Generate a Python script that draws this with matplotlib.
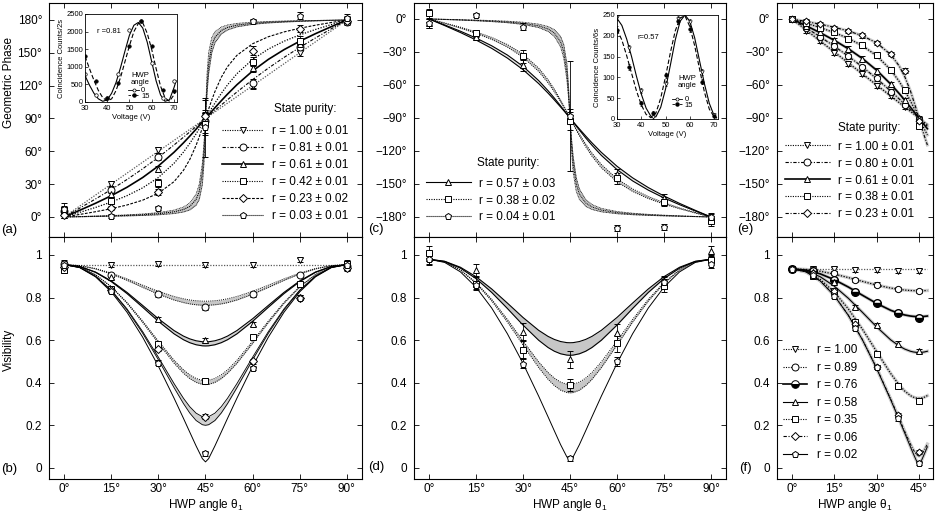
import matplotlib
matplotlib.use('Agg')
import matplotlib.pyplot as plt
from matplotlib.lines import Line2D

plt.rcParams['font.family'] = ['Liberation Sans', 'DejaVu Sans']
plt.rcParams['mathtext.fontset'] = 'custom'
plt.rcParams['mathtext.rm'] = 'Liberation Sans'
plt.rcParams['mathtext.it'] = 'Liberation Sans:italic'

# ---------------- theory grids (HWP angle, degrees) ----------------
th_phase = [0, 5, 10, 15, 20, 25, 30, 35, 38, 40, 42, 43, 44, 44.5, 44.8, 45,
            45.2, 45.5, 46, 47, 48, 50, 52, 55, 60, 65, 70, 75, 80, 85, 90]
th_vis = [0, 5, 10, 15, 20, 25, 30, 35, 38, 40, 42, 44, 45,
          46, 48, 50, 52, 55, 60, 65, 70, 75, 80, 85, 90]
th_e = [0, 5, 10, 15, 20, 25, 30, 35, 38, 40, 42, 44, 45, 46, 47, 48]
th_f = [0, 5, 10, 15, 20, 25, 30, 35, 38, 40, 42, 43, 44, 45, 46, 47, 48]
th_meas = [0, 15, 30, 45, 60, 75, 90]
th_meas_e = [0, 5, 10, 15, 20, 25, 30, 35, 40, 45]
th_meas_f = [0, 7.5, 15, 22.5, 30, 37.5, 45]

# ---------------- panel (a): geometric phase, fits ----------------
a_fit_100 = [0, 10, 20, 30, 40, 50, 60, 70, 76, 80, 84, 86, 88, 89, 89.6, 90,
             90.4, 91, 92, 94, 96, 100, 104, 110, 120, 130, 140, 150, 160, 170, 180]
a_fit_081 = [0, 8.13, 16.43, 25.06, 34.20, 43.99, 54.52, 65.81, 72.89, 77.72, 82.61, 85.07, 87.53, 88.77, 89.51, 90,
             90.49, 91.23, 92.47, 94.93, 97.39, 102.28, 107.11, 114.19, 125.48, 136.01, 145.80, 154.94, 163.57, 171.87, 180]
a_fit_061 = [0, 6.14, 12.52, 19.40, 27.11, 36.02, 46.57, 59.17, 67.77, 73.88, 80.22, 83.46, 86.72, 88.36, 89.34, 90,
             90.66, 91.64, 93.28, 96.54, 99.78, 106.12, 112.23, 120.83, 133.43, 143.98, 152.89, 160.60, 167.48, 173.86, 180]
a_fit_042 = [0, 4.24, 8.69, 13.63, 19.41, 26.59, 36.03, 49.09, 59.31, 67.23, 75.95, 80.55, 85.25, 87.62, 89.05, 90,
             90.95, 92.38, 94.75, 99.45, 104.05, 112.77, 120.69, 130.91, 143.97, 153.41, 160.59, 166.37, 171.31, 175.76, 180]
a_fit_023 = [0, 2.32, 4.79, 7.56, 10.92, 15.33, 21.72, 32.29, 42.69, 52.52, 65.44, 73.09, 81.37, 85.66, 88.26, 90,
             91.74, 94.34, 98.63, 106.91, 114.56, 127.48, 137.31, 147.71, 158.28, 164.67, 169.08, 172.44, 175.21, 177.68, 180]
a_fit_003 = [0, 0.30, 0.63, 0.99, 1.44, 2.05, 2.97, 4.71, 6.86, 9.66, 15.93, 23.22, 40.67, 59.81, 76.90, 90,
             103.10, 120.19, 139.33, 156.78, 164.07, 170.34, 173.14, 175.29, 177.03, 177.95, 178.56, 179.01, 179.37, 179.70, 180]
a_lo_003 = [0, 0.20, 0.42, 0.66, 0.96, 1.37, 1.98, 3.15, 4.59, 6.47, 10.77, 15.96, 29.80, 48.89, 70.76, 90,
            109.24, 131.11, 150.20, 164.04, 169.23, 173.53, 175.41, 176.85, 178.02, 178.63, 179.04, 179.34, 179.58, 179.80, 180]
a_hi_003 = [0, 0.40, 0.83, 1.32, 1.92, 2.73, 3.96, 6.27, 9.11, 12.78, 20.84, 29.77, 48.88, 66.42, 80.10, 90,
            99.90, 113.58, 131.12, 150.23, 159.16, 167.22, 170.89, 173.73, 176.04, 177.27, 178.08, 178.68, 179.17, 179.60, 180]

# panel (a): measured phase and errors
a_pts_100 = [3, 30, 61, 92, 120, 150, 180]
a_pts_081 = [5, 25, 55, 88, 122, 155, 178]
a_pts_061 = [4, 21, 44, 90, 136, 158, 181]
a_pts_042 = [6, 15, 31, 85, 142, 161, 180]
a_pts_023 = [2, 8, 23, 92, 152, 172, 179]
a_pts_003 = [7, 1, 8, 82, 179, 184, 182]
a_err_100 = [4, 3, 3, 4, 3, 3, 3]
a_err_081 = [4, 3, 3, 5, 4, 3, 3]
a_err_061 = [5, 3, 3, 8, 4, 4, 3]
a_err_042 = [4, 3, 4, 10, 4, 4, 3]
a_err_023 = [3, 2, 3, 15, 4, 3, 3]
a_err_003 = [6, 2, 2, 27, 2, 3, 3]

# ---------------- panel (b): visibility ----------------
b_th_100 = [0, 90]
b_fit_100 = [0.955, 0.955]
b_lo_081 = [0.955, 0.9498, 0.9347, 0.9110, 0.8811, 0.8481, 0.8159, 0.7887, 0.7765, 0.7704, 0.7663, 0.7643, 0.7640,
            0.7643, 0.7663, 0.7704, 0.7765, 0.7887, 0.8159, 0.8481, 0.8811, 0.9110, 0.9347, 0.9498, 0.955]
b_hi_081 = [0.955, 0.9503, 0.9365, 0.9151, 0.8880, 0.8583, 0.8294, 0.8051, 0.7942, 0.7888, 0.7852, 0.7833, 0.7831,
            0.7833, 0.7852, 0.7888, 0.7942, 0.8051, 0.8294, 0.8583, 0.8880, 0.9151, 0.9365, 0.9503, 0.955]
b_lo_061 = [0.955, 0.9457, 0.9186, 0.8753, 0.8191, 0.7547, 0.6887, 0.6298, 0.6021, 0.5882, 0.5786, 0.5736, 0.5730,
            0.5736, 0.5786, 0.5882, 0.6021, 0.6298, 0.6887, 0.7547, 0.8191, 0.8753, 0.9186, 0.9457, 0.955]
b_hi_061 = [0.955, 0.9461, 0.9200, 0.8784, 0.8247, 0.7633, 0.7007, 0.6452, 0.6192, 0.6062, 0.5973, 0.5927, 0.5921,
            0.5927, 0.5973, 0.6062, 0.6192, 0.6452, 0.7007, 0.7633, 0.8247, 0.8784, 0.9200, 0.9461, 0.955]
b_lo_042 = [0.955, 0.9430, 0.9073, 0.8499, 0.7737, 0.6832, 0.5857, 0.4920, 0.4447, 0.4197, 0.4020, 0.3927, 0.3916,
            0.3927, 0.4020, 0.4197, 0.4447, 0.4920, 0.5857, 0.6832, 0.7737, 0.8499, 0.9073, 0.9430, 0.955]
b_hi_042 = [0.955, 0.9432, 0.9083, 0.8522, 0.7777, 0.6898, 0.5954, 0.5056, 0.4606, 0.4371, 0.4204, 0.4117, 0.4107,
            0.4117, 0.4204, 0.4371, 0.4606, 0.5056, 0.5954, 0.6898, 0.7777, 0.8522, 0.9083, 0.9432, 0.955]
b_lo_023 = [0.955, 0.9411, 0.9000, 0.8331, 0.7428, 0.6328, 0.5081, 0.3771, 0.3021, 0.2579, 0.2230, 0.2032, 0.2006,
            0.2032, 0.2230, 0.2579, 0.3021, 0.3771, 0.5081, 0.6328, 0.7428, 0.8331, 0.9000, 0.9411, 0.955]
b_hi_023 = [0.955, 0.9414, 0.9011, 0.8356, 0.7475, 0.6405, 0.5204, 0.3963, 0.3272, 0.2877, 0.2576, 0.2409, 0.2388,
            0.2409, 0.2576, 0.2877, 0.3272, 0.3963, 0.5204, 0.6405, 0.7475, 0.8356, 0.9011, 0.9414, 0.955]
b_fit_003 = [0.955, 0.9405, 0.8975, 0.8272, 0.7318, 0.6143, 0.4781, 0.3277, 0.2327, 0.1682, 0.1038, 0.0440, 0.0287,
             0.0440, 0.1038, 0.1682, 0.2327, 0.3277, 0.4781, 0.6143, 0.7318, 0.8272, 0.8975, 0.9405, 0.955]

b_pts_100 = [0.95, 0.955, 0.96, 0.955, 0.955, 0.975, 0.955]
b_pts_081 = [0.96, 0.905, 0.815, 0.755, 0.815, 0.905, 0.95]
b_pts_061 = [0.95, 0.895, 0.70, 0.60, 0.675, 0.865, 0.945]
b_pts_042 = [0.93, 0.84, 0.58, 0.41, 0.615, 0.865, 0.96]
b_pts_023 = [0.945, 0.835, 0.56, 0.24, 0.50, 0.80, 0.94]
b_pts_003 = [0.955, 0.83, 0.495, 0.07, 0.47, 0.80, 0.955]
b_err = [0.015, 0.01, 0.01, 0.012, 0.01, 0.01, 0.015]

# ---------------- panel (c): geometric phase ----------------
c_lo_057 = [0, -5.44, -11.12, -17.32, -24.38, -32.76, -43.09, -56.02, -65.22, -71.92, -78.99, -82.62, -86.30, -88.15, -89.26, -90,
            -90.74, -91.85, -93.70, -97.38, -101.01, -108.08, -114.78, -123.98, -136.91, -147.24, -155.62, -162.68, -168.88, -174.56, -180]
c_hi_057 = [0, -6.04, -12.32, -19.11, -26.72, -35.56, -46.10, -58.76, -67.43, -73.62, -80.06, -83.35, -86.67, -88.33, -89.33, -90,
            -90.67, -91.67, -93.33, -96.65, -99.94, -106.38, -112.57, -121.24, -133.90, -144.44, -153.28, -160.89, -167.68, -173.96, -180]
c_lo_038 = [0, -3.63, -7.46, -11.74, -16.81, -23.22, -31.94, -44.69, -55.30, -63.90, -73.72, -79.01, -84.46, -87.22, -88.89, -90,
            -91.11, -92.78, -95.54, -100.99, -106.28, -116.10, -124.70, -135.31, -148.06, -156.78, -163.19, -168.26, -172.54, -176.37, -180]
c_hi_038 = [0, -4.03, -8.28, -13.00, -18.55, -25.49, -34.72, -47.70, -58.06, -66.21, -75.28, -80.08, -85.01, -87.50, -89.00, -90,
            -91.00, -92.50, -94.99, -99.92, -104.72, -113.79, -121.94, -132.30, -145.28, -154.51, -161.45, -167.00, -171.72, -175.97, -180]
c_fit_004 = [0, -0.40, -0.83, -1.32, -1.92, -2.73, -3.96, -6.27, -9.11, -12.78, -20.84, -29.77, -48.88, -66.42, -80.10, -90,
             -99.90, -113.58, -131.12, -150.23, -159.16, -167.22, -170.89, -173.73, -176.04, -177.27, -178.08, -178.68, -179.17, -179.60, -180]
c_lo_004 = [0, -0.30, -0.63, -0.99, -1.44, -2.05, -2.97, -4.71, -6.86, -9.66, -15.93, -23.22, -40.67, -59.81, -76.90, -90,
            -103.10, -120.19, -139.33, -156.78, -164.07, -170.34, -173.14, -175.29, -177.03, -177.95, -178.56, -179.01, -179.37, -179.70, -180]
c_hi_004 = [0, -0.51, -1.04, -1.65, -2.40, -3.41, -4.95, -7.82, -11.34, -15.83, -25.44, -35.56, -55.07, -70.76, -82.05, -90,
            -97.95, -109.24, -124.93, -144.44, -154.56, -164.17, -168.66, -172.18, -175.05, -176.59, -177.60, -178.35, -178.96, -179.49, -180]

c_pts_057 = [-4, -16, -42, -88, -141, -163, -181]
c_pts_038 = [5, -13, -34, -93, -145, -166, -184]
c_pts_004 = [-4, 3.5, -7, -88, -190, -189, -180]
c_err_057 = [4, 3, 5, 6, 5, 4, 4]
c_err_038 = [4, 3, 6, 8, 5, 4, 4]
c_err_004 = [4, 2, 3, 50, 3, 3, 4]

# ---------------- panel (d): visibility ----------------
d_lo_057 = [0.98, 0.9695, 0.9385, 0.8890, 0.8242, 0.7491, 0.6709, 0.5997, 0.5656, 0.5482, 0.5362, 0.5300, 0.5292,
            0.5300, 0.5362, 0.5482, 0.5656, 0.5997, 0.6709, 0.7491, 0.8242, 0.8890, 0.9385, 0.9695, 0.98]
d_hi_057 = [0.98, 0.9705, 0.9426, 0.8982, 0.8405, 0.7744, 0.7067, 0.6463, 0.6178, 0.6036, 0.5937, 0.5886, 0.5880,
            0.5886, 0.5937, 0.6036, 0.6178, 0.6463, 0.7067, 0.7744, 0.8405, 0.8982, 0.9426, 0.9705, 0.98]
d_lo_038 = [0.98, 0.9671, 0.9288, 0.8668, 0.7842, 0.6855, 0.5775, 0.4714, 0.4164, 0.3869, 0.3655, 0.3542, 0.3528,
            0.3542, 0.3655, 0.3869, 0.4164, 0.4714, 0.5775, 0.6855, 0.7842, 0.8668, 0.9288, 0.9671, 0.98]
d_hi_038 = [0.98, 0.9675, 0.9306, 0.8710, 0.7919, 0.6978, 0.5961, 0.4980, 0.4482, 0.4219, 0.4031, 0.3932, 0.3920,
            0.3932, 0.4031, 0.4219, 0.4482, 0.4980, 0.5961, 0.6978, 0.7919, 0.8710, 0.9306, 0.9675, 0.98]
d_fit_004 = [0.98, 0.9651, 0.9210, 0.8489, 0.7511, 0.6306, 0.4912, 0.3372, 0.2401, 0.1745, 0.1096, 0.0520, 0.0392,
             0.0520, 0.1096, 0.1745, 0.2401, 0.3372, 0.4912, 0.6306, 0.7511, 0.8489, 0.9210, 0.9651, 0.98]

d_pts_057 = [0.985, 0.93, 0.64, 0.51, 0.635, 0.87, 1.02]
d_pts_038 = [1.01, 0.865, 0.555, 0.39, 0.585, 0.855, 0.975]
d_pts_004 = [0.98, 0.86, 0.49, 0.045, 0.50, 0.875, 0.96]
d_err_057 = [0.03, 0.03, 0.04, 0.04, 0.04, 0.03, 0.02]
d_err_038 = [0.03, 0.03, 0.04, 0.03, 0.04, 0.03, 0.02]
d_err_004 = [0.02, 0.02, 0.02, 0.01, 0.02, 0.02, 0.02]

# ---------------- panel (e): geometric phase ----------------
e_fit_100 = [0, -10, -20, -30, -40, -50, -60, -70, -76, -80, -84, -88, -90, -92, -94, -96]
e_fit_080 = [0, -8.03, -16.23, -24.79, -33.87, -43.64, -54.18, -65.53, -72.69, -77.57, -82.52, -87.50, -90, -92.50, -95.00, -97.48]
e_fit_061 = [0, -6.14, -12.52, -19.40, -27.11, -36.02, -46.57, -59.17, -67.77, -73.88, -80.22, -86.72, -90, -93.28, -96.54, -99.78]
e_fit_038 = [0, -3.83, -7.87, -12.37, -17.69, -24.37, -33.35, -46.23, -56.73, -65.11, -74.54, -84.75, -90, -95.25, -100.43, -105.46]
e_fit_023 = [0, -2.32, -4.79, -7.56, -10.92, -15.33, -21.72, -32.29, -42.69, -52.52, -65.44, -81.37, -90, -98.63, -106.91, -114.56]

e_pts_100 = [0, -11, -20, -31, -41, -50, -61, -70, -80, -92]
e_pts_080 = [0, -8, -16, -25, -34, -44, -54, -66, -78, -91]
e_pts_061 = [0, -6, -12, -19, -27, -36, -47, -59, -74, -90]
e_pts_038 = [0, -4, -8, -12, -18, -24, -33, -46, -65, -97]
e_pts_023 = [0, -2, -5, -8, -11, -15, -22, -32, -47, -93]

# ---------------- panel (f): visibility ----------------
f_th_100 = [0, 48]
f_fit_100 = [0.935, 0.935]
f_fit_089 = [0.935, 0.9321, 0.9236, 0.9104, 0.8939, 0.8761, 0.8590, 0.8448, 0.8385, 0.8354, 0.8333, 0.8327, 0.8323, 0.8322, 0.8323, 0.8327, 0.8333]
f_fit_076 = [0.935, 0.9290, 0.9116, 0.8843, 0.8495, 0.8109, 0.7728, 0.7404, 0.7256, 0.7184, 0.7134, 0.7119, 0.7109, 0.7106, 0.7109, 0.7119, 0.7134]
f_fit_058 = [0.935, 0.9256, 0.8980, 0.8539, 0.7966, 0.7306, 0.6627, 0.6016, 0.5728, 0.5582, 0.5481, 0.5449, 0.5430, 0.5423, 0.5430, 0.5449, 0.5481]
f_fit_035 = [0.935, 0.9226, 0.8857, 0.8261, 0.7465, 0.6512, 0.5467, 0.4437, 0.3899, 0.3609, 0.3398, 0.3329, 0.3287, 0.3273, 0.3287, 0.3329, 0.3398]
f_fit_006 = [0.935, 0.9209, 0.8788, 0.8102, 0.7172, 0.6026, 0.4700, 0.3241, 0.2327, 0.1715, 0.1125, 0.0859, 0.0648, 0.0561, 0.0648, 0.0859, 0.1125]
f_fit_002 = [0.935, 0.9208, 0.8786, 0.8098, 0.7164, 0.6012, 0.4678, 0.3203, 0.2269, 0.1634, 0.0995, 0.0678, 0.0376, 0.0187, 0.0376, 0.0678, 0.0995]

f_pts_100 = [0.935, 0.935, 0.935, 0.93, 0.93, 0.927, 0.925]
f_pts_089 = [0.935, 0.925, 0.914, 0.884, 0.861, 0.842, 0.83]
f_pts_076 = [0.935, 0.925, 0.884, 0.825, 0.774, 0.727, 0.703]
f_pts_058 = [0.935, 0.92, 0.872, 0.757, 0.670, 0.584, 0.548]
f_pts_035 = [0.935, 0.90, 0.83, 0.685, 0.536, 0.387, 0.316]
f_pts_006 = [0.935, 0.915, 0.83, 0.678, 0.475, 0.249, 0.075]
f_pts_002 = [0.935, 0.905, 0.808, 0.656, 0.475, 0.233, 0.025]

# ---------------- insets: coincidence counts vs LC voltage ----------------
volt = [30, 32, 34, 36, 38, 40, 42, 44, 46, 48, 50, 52, 54, 56, 58, 60, 62, 64, 66, 68, 70, 71]
volt_pts = [30, 35, 40, 45, 50, 55, 60, 65, 70]
ia_fit_0 = [750, 480, 250, 90, 20, 60, 250, 560, 980, 1450, 1900, 2180, 2260, 2100, 1700, 1150, 600, 200, 20, 60, 400, 600]
ia_fit_15 = [1300, 950, 620, 330, 120, 30, 90, 330, 700, 1150, 1600, 2000, 2230, 2250, 1950, 1500, 950, 450, 120, 20, 200, 350]
ia_pts_0 = [800, 200, 100, 800, 2050, 2300, 1100, 100, 600]
ia_pts_15 = [1300, 600, 100, 550, 1600, 2300, 1600, 350, 300]
ic_fit_0 = [242, 225, 192, 150, 103, 60, 26, 6, 5, 28, 72, 130, 190, 235, 250, 235, 195, 140, 85, 38, 8, 3]
ic_fit_15 = [215, 190, 152, 110, 68, 34, 11, 3, 14, 50, 102, 160, 212, 243, 248, 222, 176, 120, 65, 24, 5, 2]
ic_pts_0 = [245, 170, 68, 5, 85, 240, 232, 112, 10]
ic_pts_15 = [215, 125, 38, 15, 105, 236, 216, 90, 8]
ic_err = [8, 8, 6, 4, 6, 8, 8, 7, 4]

# ---------------- figure ----------------
W, H = 937, 513
fig = plt.figure(figsize=(W / 100, H / 100), dpi=100)


def box(x0, x1, y0, y1):
    return [x0 / W, 1 - y1 / H, (x1 - x0) / W, (y1 - y0) / H]


FS = 8.5
IFS = 5.5
DOT = (0, (1, 1.2))
DOT2 = (0, (1, 0.8))
DDOT = (0, (3, 1.5, 1, 1.5))
DASH = (0, (2.5, 1.3))
BAND = '0.78'


def style(ax, xt, xl, yt, yl):
    ax.tick_params(direction='in', top=True, right=True, length=3.5, width=0.6,
                   labelsize=FS, pad=5)
    ax.tick_params(axis='x', pad=3)
    for s in ax.spines.values():
        s.set_linewidth(0.8)
    ax.set_xticks(xt)
    ax.set_xticklabels(xl)
    ax.set_yticks(yt)
    ax.set_yticklabels(yl)


def inset_style(ins):
    ins.tick_params(direction='in', length=2, width=0.5, labelsize=IFS, pad=1.5)
    ins.tick_params(axis='x', pad=2.5)
    for s in ins.spines.values():
        s.set_linewidth(0.6)
    ins.spines['top'].set_linestyle((0, (1, 1)))
    ins.spines['right'].set_linestyle((0, (1, 1)))
    ins.set_xticks([30, 40, 50, 60, 70])


def pts(ax, x, y, err, m, ms=5, mfc='white'):
    ax.errorbar(x, y, yerr=err, fmt=m, ms=ms, mfc=mfc, mec='k', mew=0.7,
                ecolor='k', elinewidth=0.6, capsize=2, capthick=0.6, zorder=5)


def band(ax, x, lo, hi, ls, lw=0.7, col=BAND):
    ax.fill_between(x, lo, hi, color=col, lw=0, zorder=1)
    ax.plot(x, lo, color='k', ls=ls, lw=lw, zorder=2)
    ax.plot(x, hi, color='k', ls=ls, lw=lw, zorder=2)


def handle(ls, m, lw=0.8, ms=5, **kw):
    return Line2D([], [], color='k', ls=ls, lw=lw, marker=m, ms=ms,
                  mfc=kw.get('mfc', 'white'), mec='k', mew=0.7,
                  fillstyle=kw.get('fillstyle', 'full'),
                  markerfacecoloralt=kw.get('mfcalt', 'white'))


def purity_legend(ax, hs, labels, x, y, hl, tpos=None, sp=0.42):
    ax.legend(hs, labels, loc='upper left', bbox_to_anchor=(x, y), frameon=False,
              handlelength=hl, handletextpad=0.7, labelspacing=sp, borderpad=0,
              borderaxespad=0, fontsize=FS, numpoints=1)
    if tpos is not None:
        ax.text(tpos[0], tpos[1], 'State purity:', transform=ax.transAxes,
                fontsize=FS, va='center', ha='left')


def hwp_legend(ins, x, y):
    hs = [Line2D([], [], color='k', lw=0.6, marker='o', ms=2.2, mfc='white', mec='k', mew=0.5),
          Line2D([], [], color='k', lw=0.6, ls=(0, (3, 1.5)), marker='o', ms=2.2, mfc='k', mec='k')]
    ins.legend(hs, ['0', '15'], loc='upper left', bbox_to_anchor=(x, y), frameon=False,
               handlelength=1.4, handletextpad=0.3, labelspacing=-0.25, borderpad=0,
               borderaxespad=0, fontsize=IFS, numpoints=1)


x90 = [0, 15, 30, 45, 60, 75, 90]
x90l = ['0°', '15°', '30°', '45°', '60°', '75°', '90°']
vis_t = [0, 0.2, 0.4, 0.6, 0.8, 1.0]
vis_l = ['0', '0.2', '0.4', '0.6', '0.8', '1']
neg_t = [0, -30, -60, -90, -120, -150, -180]
neg_l = ['0°', '\u221230°', '\u221260°', '\u221290°', '\u2212120°', '\u2212150°', '\u2212180°']

YB = 479  # bottom spine (pixels)
YLAB = -0.108

# ---- (a)
ax = fig.add_axes(box(49, 362, 3, 237))
style(ax, x90, [], [0, 30, 60, 90, 120, 150, 180],
      ['0°', '30°', '60°', '90°', '120°', '150°', '180°'])
ax.set_xlim(-4.8, 94.8)
ax.set_ylim(-18.3, 195.5)
band(ax, th_phase, a_lo_003, a_hi_003, DOT2, lw=0.6)
ax.plot(th_phase, a_fit_003, color='k', ls=DOT2, lw=0.8)
ax.plot(th_phase, a_fit_100, color='0.35', ls=DOT, lw=0.9)
ax.plot(th_phase, a_fit_081, color='k', ls=DDOT, lw=0.8)
ax.plot(th_phase, a_fit_061, color='k', ls='-', lw=1.2)
ax.plot(th_phase, a_fit_042, color='k', ls=DOT, lw=0.9)
ax.plot(th_phase, a_fit_023, color='k', ls=DASH, lw=0.8)
pts(ax, th_meas, a_pts_100, a_err_100, 'v')
pts(ax, th_meas, a_pts_081, a_err_081, 'o')
pts(ax, th_meas, a_pts_061, a_err_061, '^')
pts(ax, th_meas, a_pts_042, a_err_042, 's', ms=4.5)
pts(ax, th_meas, a_pts_023, a_err_023, 'D', ms=4)
pts(ax, th_meas, a_pts_003, a_err_003, 'p')
ax.set_ylabel('Geometric Phase', fontsize=FS)
ax.yaxis.set_label_coords(YLAB, 0.662)
hs = [handle(DOT, 'v'), handle(DDOT, 'o'), handle('-', '^', lw=1.2),
      handle(DOT, 's', ms=4.5), handle(DASH, 'D', ms=4), handle(DOT2, 'p')]
labs = ['r = 1.00 ± 0.01', 'r = 0.81 ± 0.01', 'r = 0.61 ± 0.01',
        'r = 0.42 ± 0.01', 'r = 0.23 ± 0.02', 'r = 0.03 ± 0.01']
purity_legend(ax, hs, labs, 0.553, 0.478, 3.5, (0.719, 0.547))

# inset (a)
ins = fig.add_axes(box(85, 177, 14, 102))
inset_style(ins)
ins.plot(volt, ia_fit_0, color='k', lw=0.8)
ins.plot(volt, ia_fit_15, color='k', lw=0.8, ls=(0, (4, 2)))
ins.plot(volt_pts, ia_pts_0, 'o', ms=2.5, mfc='white', mec='k', mew=0.5)
ins.plot(volt_pts, ia_pts_15, 'o', ms=2.5, mfc='k', mec='k', mew=0.5)
ins.set_xlim(30, 71.4)
ins.set_ylim(0, 2500)
ins.set_yticks([0, 500, 1000, 1500, 2000, 2500])
ins.set_xlabel('Voltage (V)', fontsize=IFS, labelpad=1)
ins.set_ylabel('Coincidence Counts/2s', fontsize=IFS, labelpad=1)
ins.text(0.255, 0.80, 'r =0.81', transform=ins.transAxes, fontsize=IFS, ha='center', va='center')
ins.text(0.6, 0.267, 'HWP\nangle', transform=ins.transAxes, fontsize=IFS, ha='center', va='center', linespacing=1.0)
hwp_legend(ins, 0.47, 0.17)

# ---- (b)
ax = fig.add_axes(box(49, 362, 237, YB))
style(ax, x90, x90l, vis_t, vis_l)
ax.set_xlim(-4.8, 94.8)
ax.set_ylim(-(YB - 468) / 213, 1.0845)
ax.plot(b_th_100, b_fit_100, color='0.35', ls=DOT, lw=0.9)
band(ax, th_vis, b_lo_081, b_hi_081, DOT)
band(ax, th_vis, b_lo_061, b_hi_061, '-', lw=0.8, col='0.82')
band(ax, th_vis, b_lo_042, b_hi_042, DOT)
band(ax, th_vis, b_lo_023, b_hi_023, '-', lw=0.6, col='0.82')
ax.plot(th_vis, b_fit_003, color='k', lw=0.7)
pts(ax, th_meas, b_pts_100, b_err, 'v')
pts(ax, th_meas, b_pts_081, b_err, 'o')
pts(ax, th_meas, b_pts_061, b_err, '^')
pts(ax, th_meas, b_pts_042, b_err, 's', ms=4.5)
pts(ax, th_meas, b_pts_023, b_err, 'D', ms=4)
pts(ax, th_meas, b_pts_003, b_err, 'p')
ax.set_ylabel('Visibility', fontsize=FS)
ax.yaxis.set_label_coords(YLAB, 0.533)
ax.set_xlabel('HWP angle θ$_1$', fontsize=FS, labelpad=1)

# ---- (c)
ax = fig.add_axes(box(414, 726, 3, 237))
style(ax, x90, [], neg_t, neg_l)
ax.set_xlim(-4.8, 94.8)
ax.set_ylim(-198.2, 14.5)
band(ax, th_phase, c_lo_004, c_hi_004, DOT2, lw=0.6)
ax.plot(th_phase, c_fit_004, color='k', ls=DOT2, lw=0.7)
band(ax, th_phase, c_lo_038, c_hi_038, DOT, lw=0.7)
band(ax, th_phase, c_lo_057, c_hi_057, '-', lw=0.8, col='0.9')
pts(ax, th_meas, c_pts_057, c_err_057, '^')
pts(ax, th_meas, c_pts_038, c_err_038, 's', ms=4.5)
pts(ax, th_meas, c_pts_004, c_err_004, 'p')
hs = [handle('-', '^'), handle(DOT, 's', ms=4.5), handle(DOT2, 'p')]
labs = ['r = 0.57 ± 0.03', 'r = 0.38 ± 0.02', 'r = 0.04 ± 0.01']
purity_legend(ax, hs, labs, 0.038, 0.254, 3.8, (0.202, 0.316))

# inset (c)
ins = fig.add_axes(box(617, 718, 15, 119))
inset_style(ins)
ins.plot(volt, ic_fit_0, color='k', lw=0.8)
ins.plot(volt, ic_fit_15, color='k', lw=0.8, ls=(0, (4, 2)))
ins.errorbar(volt_pts, ic_pts_0, yerr=ic_err, fmt='v', ms=2.5, mfc='white', mec='k', mew=0.5,
             ecolor='k', elinewidth=0.4, capsize=1)
ins.errorbar(volt_pts, ic_pts_15, yerr=ic_err, fmt='o', ms=2.5, mfc='k', mec='k', mew=0.5,
             ecolor='k', elinewidth=0.4, capsize=1)
ins.set_xlim(30, 71.6)
ins.set_ylim(0, 250)
ins.set_yticks([0, 50, 100, 150, 200, 250])
ins.set_xlabel('Voltage (V)', fontsize=IFS, labelpad=1)
ins.set_ylabel('Coincidence Counts/6s', fontsize=IFS, labelpad=1)
ins.text(0.307, 0.788, 'r=0.57', transform=ins.transAxes, fontsize=IFS, ha='center', va='center')
ins.text(0.693, 0.36, 'HWP\nangle', transform=ins.transAxes, fontsize=IFS, ha='center', va='center', linespacing=1.0)
hwp_legend(ins, 0.54, 0.22)

# ---- (d)
ax = fig.add_axes(box(414, 726, 237, YB))
style(ax, x90, x90l, vis_t, vis_l)
ax.set_xlim(-4.8, 94.8)
ax.set_ylim(-(YB - 468) / 213, 1.0845)
band(ax, th_vis, d_lo_057, d_hi_057, '-', lw=0.8)
band(ax, th_vis, d_lo_038, d_hi_038, DOT, lw=0.7)
ax.plot(th_vis, d_fit_004, color='k', lw=0.7)
pts(ax, th_meas, d_pts_057, d_err_057, '^')
pts(ax, th_meas, d_pts_038, d_err_038, 's', ms=4.5)
pts(ax, th_meas, d_pts_004, d_err_004, 'p')
ax.set_xlabel('HWP angle θ$_1$', fontsize=FS, labelpad=1)

# ---- (e)
ax = fig.add_axes(box(777, 933, 3, 237))
style(ax, [0, 15, 30, 45], [], neg_t, neg_l)
ax.set_xlim(-5.3, 50)
ax.set_ylim(-198.2, 14.5)
for y, ls, lw in [(e_fit_100, DOT, 0.9), (e_fit_080, DDOT, 0.8), (e_fit_061, '-', 1.2),
                  (e_fit_038, DOT, 0.9), (e_fit_023, DDOT, 0.8)]:
    ax.plot(th_e, y, color='0.8', lw=2.2, zorder=1)
    ax.plot(th_e, y, color='k', ls=ls, lw=lw, zorder=2)
e_err = [2] * len(th_meas_e)
pts(ax, th_meas_e, e_pts_100, e_err, 'v', ms=4.5)
pts(ax, th_meas_e, e_pts_080, e_err, 'o', ms=4.5)
pts(ax, th_meas_e, e_pts_061, e_err, '^', ms=4.5)
pts(ax, th_meas_e, e_pts_038, e_err, 's', ms=4)
pts(ax, th_meas_e, e_pts_023, e_err, 'D', ms=3.5)
hs = [handle(DOT, 'v'), handle(DDOT, 'o'), handle('-', '^', lw=1.2),
      handle(DOT, 's', ms=4.5), handle(DDOT, 'D', ms=4)]
labs = ['r = 1.00 ± 0.01', 'r = 0.80 ± 0.01', 'r = 0.61 ± 0.01',
        'r = 0.38 ± 0.01', 'r = 0.23 ± 0.01']
purity_legend(ax, hs, labs, 0.05, 0.412, 3.8, (0.391, 0.466))

# ---- (f)
ax = fig.add_axes(box(777, 933, 237, YB))
style(ax, [0, 15, 30, 45], ['0°', '15°', '30°', '45°'], vis_t, vis_l)
ax.set_xlim(-5.3, 50)
ax.set_ylim(-(YB - 468) / 213, 1.0845)
ax.plot(f_th_100, f_fit_100, color='0.35', ls=DOT, lw=0.9)
for y, ls, lw in [(f_fit_089, DOT, 0.9), (f_fit_076, '-', 1.2), (f_fit_058, '-', 0.8),
                  (f_fit_035, DOT, 0.9), (f_fit_006, DDOT, 0.7), (f_fit_002, '-', 0.7)]:
    ax.plot(th_f, y, color='0.8', lw=2.4, zorder=1)
    ax.plot(th_f, y, color='k', ls=ls, lw=lw, zorder=2)
f_err = [0.01] * len(th_meas_f)
pts(ax, th_meas_f, f_pts_100, f_err, 'v', ms=4.5)
pts(ax, th_meas_f, f_pts_089, f_err, 'o', ms=4.5)
ax.errorbar(th_meas_f, f_pts_076, yerr=f_err, fmt='o', ms=5.5, mfc='k', mec='k', mew=1.0,
            fillstyle='bottom', markerfacecoloralt='white', ecolor='k', elinewidth=0.6,
            capsize=2, zorder=5)
pts(ax, th_meas_f, f_pts_058, f_err, '^', ms=4.5)
pts(ax, th_meas_f, f_pts_035, f_err, 's', ms=4)
pts(ax, th_meas_f, f_pts_006, f_err, 'D', ms=3.5)
pts(ax, th_meas_f, f_pts_002, f_err, 'p', ms=4.5)
ax.set_xlabel('HWP angle θ$_1$', fontsize=FS, labelpad=1)
hs = [handle(DOT, 'v'), handle(DOT, 'o'),
      handle('-', 'o', lw=1.2, ms=5.5, mfc='k', fillstyle='bottom', mfcalt='white'),
      handle('-', '^'), handle(DOT, 's', ms=4.5), handle(DDOT, 'D', ms=4), handle('-', 'p')]
labs = ['r = 1.00', 'r = 0.89', 'r = 0.76', 'r = 0.58', 'r = 0.35', 'r = 0.06', 'r = 0.02']
ax.legend(hs, labs, loc='upper left', bbox_to_anchor=(0.038, 0.556), frameon=False,
          handlelength=2.0, handletextpad=0.9, labelspacing=0.46, borderpad=0,
          borderaxespad=0, fontsize=FS, numpoints=1)

# panel letters
for txt, x, y in [('(a)', 9, 230), ('(b)', 9, 469), ('(c)', 376, 229),
                  ('(d)', 376, 467), ('(e)', 745, 229), ('(f)', 745, 468)]:
    fig.text(x / W, 1 - y / H, txt, fontsize=9.5, ha='center', va='center')

fig.savefig('out.png', dpi=100)
